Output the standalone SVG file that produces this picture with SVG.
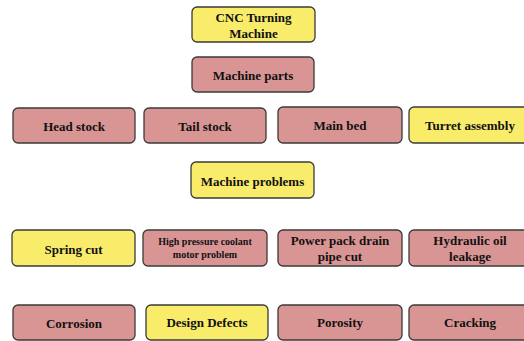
<svg xmlns="http://www.w3.org/2000/svg" width="524" height="341" viewBox="0 0 524 341">
<style>
rect{stroke:#3a3a3a;stroke-width:1.3}
.y{fill:#F9EC6B}
.p{fill:#D99594}
text{font-family:"Liberation Serif","DejaVu Serif",serif;font-weight:bold;font-size:13px;fill:#111;text-anchor:middle;dominant-baseline:central}
.s{font-size:10px}
</style>
<rect width="524" height="341" fill="#fff" style="stroke:none"/>
<g id="connectors"/>
<g id="cnc"><rect class="y" x="192" y="7" width="123" height="35" rx="5"/><text x="253.5" y="17">CNC Turning</text><text x="253.5" y="33">Machine</text></g>
<g id="machine-parts"><rect class="p" x="192" y="57" width="122" height="35" rx="5"/><text x="253" y="75">Machine parts</text></g>
<g id="head-stock"><rect class="p" x="13" y="108" width="122" height="35" rx="5"/><text x="74" y="126.5">Head stock</text></g>
<g id="tail-stock"><rect class="p" x="144" y="108" width="122" height="35" rx="5"/><text x="205" y="126.5">Tail stock</text></g>
<g id="main-bed"><rect class="p" x="278" y="107" width="124" height="36" rx="5"/><text x="340" y="125.5">Main bed</text></g>
<g id="turret"><rect class="y" x="409" y="107" width="124" height="36" rx="5"/><text x="470" y="125.5">Turret assembly</text></g>
<g id="machine-problems"><rect class="y" x="191" y="162" width="123" height="36" rx="5"/><text x="252.5" y="181">Machine problems</text></g>
<g id="spring-cut"><rect class="y" x="12" y="230" width="123" height="36" rx="5"/><text x="73.5" y="249">Spring cut</text></g>
<g id="high-pressure"><rect class="p" x="143" y="230" width="124" height="36" rx="5"/><text class="s" x="205" y="241.5">High pressure coolant</text><text class="s" x="205" y="254.5">motor problem</text></g>
<g id="power-pack"><rect class="p" x="278" y="230" width="124" height="36" rx="5"/><text x="340" y="240.5">Power pack drain</text><text x="340" y="256.5">pipe cut</text></g>
<g id="hydraulic"><rect class="p" x="409" y="230" width="124" height="36" rx="5"/><text x="470" y="240.5">Hydraulic oil</text><text x="470" y="256.5">leakage</text></g>
<g id="corrosion"><rect class="p" x="13" y="305" width="122" height="35" rx="5"/><text x="74" y="323.5">Corrosion</text></g>
<g id="design-defects"><rect class="y" x="146" y="305" width="122" height="35" rx="5"/><text x="207" y="322.5">Design Defects</text></g>
<g id="porosity"><rect class="p" x="278" y="305" width="124" height="35" rx="5"/><text x="340" y="322.5">Porosity</text></g>
<g id="cracking"><rect class="p" x="409" y="305" width="124" height="35" rx="5"/><text x="470" y="322.5">Cracking</text></g>
</svg>
